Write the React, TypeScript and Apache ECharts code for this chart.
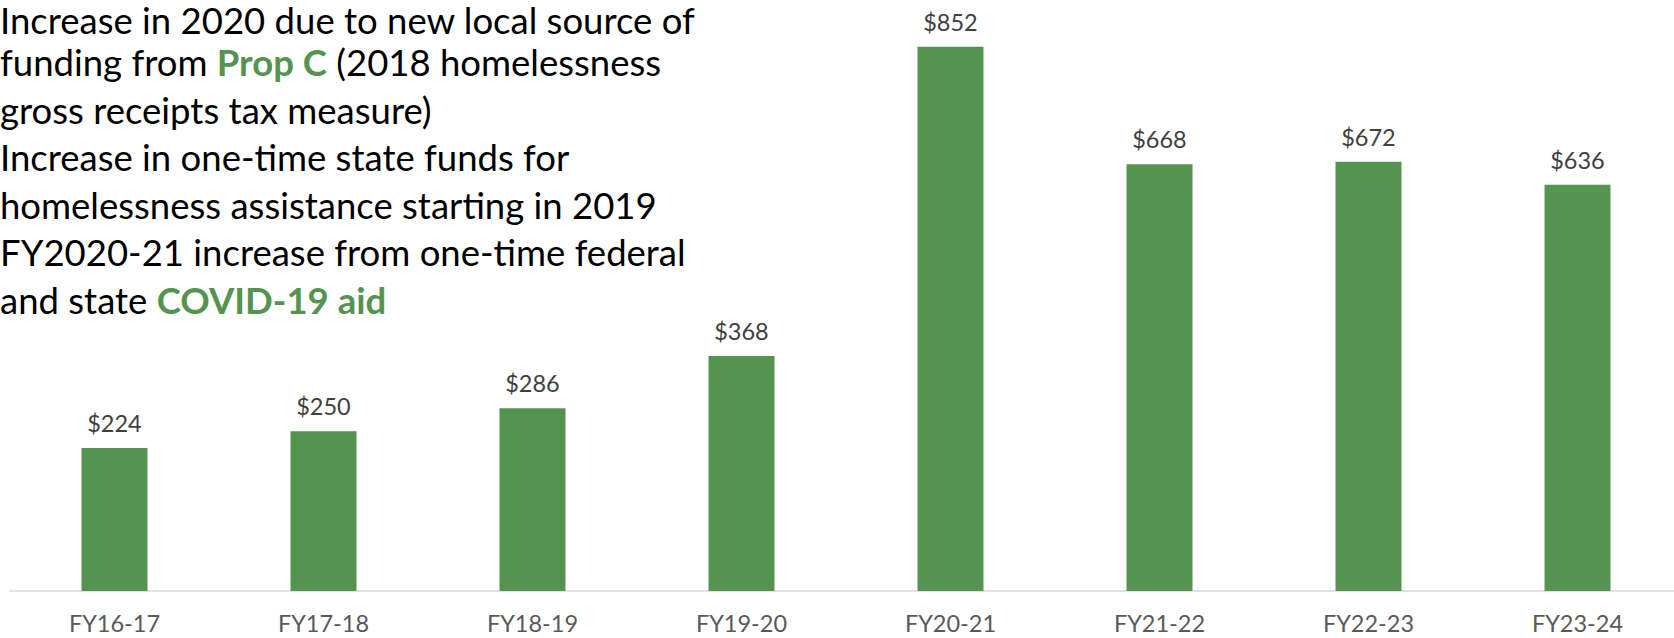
import React, { useEffect, useRef } from "react";
import * as echarts from "echarts";

const categories = ["FY16-17", "FY17-18", "FY18-19", "FY19-20", "FY20-21", "FY21-22", "FY22-23", "FY23-24"];
const values = [224, 250, 286, 368, 852, 668, 672, 636];
const yMax = 900;

const noteLines = [
  "Increase in 2020 due to new local source of",
  "funding from {g|Prop C} (2018 homelessness",
  "gross receipts tax measure)",
  "Increase in one-time state funds for",
  "homelessness assistance starting in 2019",
  "FY2020-21 increase from one-time federal",
  "and state {g|COVID-19 aid}",
];

const GREEN = "#559350";
const FONT = "Lato, 'Open Sans', sans-serif";
const NOTE_SIZE = 36.5;
const NOTE_LH = 47.5;

export default function App() {
  const ref = useRef<HTMLDivElement>(null);
  useEffect(() => {
    if (!ref.current) return;
    const chart = echarts.init(ref.current, undefined, { renderer: "svg" });
    const richG = { g: { fill: GREEN, fontWeight: "bold", fontSize: NOTE_SIZE, fontFamily: FONT, lineHeight: NOTE_LH } };
    chart.setOption({
      animation: false,
      backgroundColor: "#ffffff",
      grid: { left: 10, top: 16, width: 1672, height: 575, containLabel: false },
      xAxis: {
        type: "category",
        data: categories,
        axisLine: { show: true, lineStyle: { color: "#d9d9d9", width: 1.5 } },
        axisTick: { show: false },
        axisLabel: { color: "#595959", fontSize: 23.5, fontFamily: FONT, margin: 20 },
      },
      yAxis: {
        type: "value",
        min: 0,
        max: yMax,
        show: false,
        splitLine: { show: false },
      },
      series: [
        {
          type: "bar",
          data: values,
          barWidth: 66,
          itemStyle: { color: GREEN },
          label: {
            show: true,
            position: "top",
            distance: 13,
            formatter: (p: any) => "$" + p.value,
            color: "#404040",
            fontSize: 23.5,
            fontFamily: FONT,
          },
        },
      ],
      graphic: [
        {
          type: "text",
          left: 0,
          top: 1,
          style: {
            text: noteLines[0],
            fill: "#000000",
            fontSize: NOTE_SIZE,
            fontFamily: FONT,
            lineHeight: 28,
          },
        },
        {
          type: "text",
          left: 0,
          top: 38.5,
          style: {
            text: noteLines.slice(1).join("\n"),
            fill: "#000000",
            fontSize: NOTE_SIZE,
            fontFamily: FONT,
            lineHeight: NOTE_LH,
            rich: richG,
          },
        },
      ],
    });
    return () => chart.dispose();
  }, []);
  return (
    <div style={{ position: "fixed", left: 0, top: 0, width: 1674, height: 638, overflow: "hidden", background: "#fff" }}>
      <div ref={ref} style={{ width: 1700, height: 638 }} />
    </div>
  );
}
